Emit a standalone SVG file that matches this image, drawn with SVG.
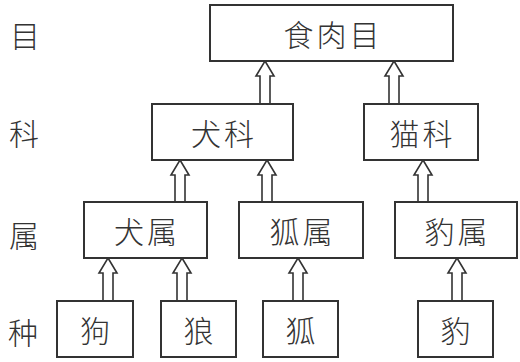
<svg xmlns="http://www.w3.org/2000/svg" width="520" height="362" viewBox="0 0 520 362">
<style>
.box{fill:#fff;stroke:#333;stroke-width:2}
.arr{fill:#fff;stroke:#333;stroke-width:1.6;stroke-linejoin:miter}
text{font-family:"Noto Sans CJK SC","Noto Sans CJK JP",sans-serif;font-size:30px;fill:#333;text-anchor:middle;dominant-baseline:central;font-weight:300}
.ls{letter-spacing:3px}
</style>
<rect width="520" height="362" fill="#fff"/>
<g id="row-labels">
<text x="25" y="34">目</text>
<text x="24" y="132">科</text>
<text x="24" y="234">属</text>
<text x="23" y="331">种</text>
</g>
<g id="connectors">
<polygon class="arr" points="265,61 274,76 270,76 270,104 260,104 260,76 256,76"/>
<polygon class="arr" points="394,61 403,76 399,76 399,104 389,104 389,76 385,76"/>
<polygon class="arr" points="180,160 189,175 185,175 185,202 175,202 175,175 171,175"/>
<polygon class="arr" points="267,160 276,175 272,175 272,202 262,202 262,175 258,175"/>
<polygon class="arr" points="423,160 432,175 428,175 428,202 418,202 418,175 414,175"/>
<polygon class="arr" points="108,258 117,273 113,273 113,301 103,301 103,273 99,273"/>
<polygon class="arr" points="182,258 191,273 187,273 187,301 177,301 177,273 173,273"/>
<polygon class="arr" points="298,258 307,273 303,273 303,301 293,301 293,273 289,273"/>
<polygon class="arr" points="457,258 466,273 462,273 462,301 452,301 452,273 448,273"/>
</g>
<g id="n-shiroumu"><rect class="box" x="210" y="5" width="243" height="56"/><text class="ls" x="333" y="33">食肉目</text></g>
<g id="n-quanke"><rect class="box" x="152" y="104" width="141" height="56"/><text class="ls" x="224" y="132">犬科</text></g>
<g id="n-maoke"><rect class="box" x="364" y="104" width="114" height="56"/><text class="ls" x="422.5" y="132">猫科</text></g>
<g id="n-quanshu"><rect class="box" x="84" y="202" width="123" height="56"/><text class="ls" x="147" y="230">犬属</text></g>
<g id="n-hushu"><rect class="box" x="239" y="202" width="124" height="56"/><text class="ls" x="302.5" y="230">狐属</text></g>
<g id="n-baoshu"><rect class="box" x="395" y="202" width="122" height="56"/><text class="ls" x="457.5" y="230">豹属</text></g>
<g id="n-gou"><rect class="box" x="57" y="301" width="76" height="56"/><text x="95" y="329">狗</text></g>
<g id="n-lang"><rect class="box" x="161" y="301" width="75" height="56"/><text x="198.5" y="329">狼</text></g>
<g id="n-hu"><rect class="box" x="263" y="301" width="75" height="56"/><text x="300.5" y="329">狐</text></g>
<g id="n-bao"><rect class="box" x="418" y="301" width="75" height="56"/><text x="455.5" y="329">豹</text></g>
</svg>
